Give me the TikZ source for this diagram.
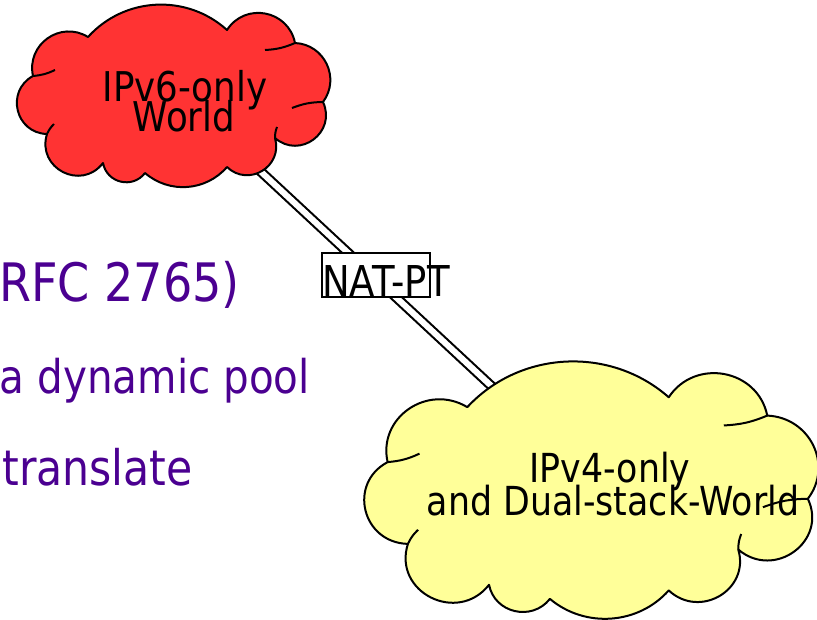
\documentclass[tikz,border=0pt]{standalone}
\usepackage{fontspec}
\usetikzlibrary{calc}
\setmainfont{DejaVu Sans}[FakeStretch=0.87]
\definecolor{cloudred}{RGB}{255,51,51}
\definecolor{cloudyellow}{RGB}{255,255,153}
\definecolor{txtpurple}{RGB}{75,0,145}

% one circular bump of the cloud from #1 to #2, leaving the chord at angle #3, control factor #4
\newcommand\arcb[4]{.. controls ($(#1)!#4!#3:(#2)$) and ($(#2)!#4!-#3:(#1)$) .. (#2)}

% cloud outline in the coordinates of the red cloud
\newcommand\cloudoutline[1]{%
  \path[cloudline,fill=#1] (33,76)
    \arcb{33,76}{88,37}{67}{0.4794}
    \arcb{88,37}{227,30}{45}{0.3905}
    \arcb{227,30}{295,43}{68}{0.4850}
    \arcb{295,43}{323,102}{62}{0.4536}
    \arcb{323,102}{275,138}{78}{0.5519}
    \arcb{275,138}{227,167}{75}{0.5296}
    \arcb{227,167}{145,173}{45}{0.3905}
    \arcb{145,173}{103,163}{66}{0.4739}
    \arcb{103,163}{47,134}{80}{0.5680}
    \arcb{47,134}{33,76}{75}{0.5296}
    -- cycle;
  \draw[cloudline] (33,76) to[bend right=10] (55,70);
  \draw[cloudline] (295,43) to[bend left=10] (265,50);
  \draw[cloudline] (323,102) to[bend right=10] (292,108);
  \draw[cloudline] (275,138) to[bend left=10] (277,127);
  \draw[cloudline] (47,134) to[bend left=10] (54,124);
}

\tikzset{
  cloudline/.style={draw=black,line width=2pt,line join=round},
  link/.style={draw=black,double=white,line width=2.1pt,double distance=6pt},
  cloudtxt/.style={inner sep=0pt,anchor=base,text=black,font=\fontsize{41}{41}\selectfont},
  cloudtxtb/.style={inner sep=0pt,anchor=base,text=black,font=\fontsize{40}{40}\selectfont},
  bulletbig/.style={inner sep=0pt,anchor=base east,text=txtpurple,font=\fontsize{53}{53}\selectfont},
  bulletsmall/.style={inner sep=0pt,anchor=base east,text=txtpurple,font=\fontsize{46.5}{46.5}\selectfont},
  natbox/.style={draw=black,fill=white,line width=1.3pt,minimum width=108pt,minimum height=44pt,inner sep=0pt},
  nattxt/.style={inner sep=0pt,anchor=base west,text=black,font=\fontsize{42.5}{42.5}\selectfont}
}

\begin{document}
\begin{tikzpicture}[x=1pt,y=-1pt]
\useasboundingbox (0,0) rectangle (817,620);
\clip (0,0) rectangle (817,620);
\fill[white] (0,0) rectangle (817,620);

% bullet text (cut at left edge)
\node[bulletbig] (rfc) at (240,302) {RFC 2765)};
\node[bulletsmall] (pool) at (310,393) {a dynamic pool};
\node[bulletsmall,font=\fontsize{49}{49}\selectfont] (transl) at (193,485) {translate};

% link between clouds
\coordinate (v6end) at (230,143);
\coordinate (v4end) at (500,394);
\draw[link] (v6end) -- (v4end);

% clouds
\cloudoutline{cloudred}
\begin{scope}[shift={(339.8,354.95)},xscale=1.449,yscale=1.41]
  \cloudoutline{cloudyellow}
\end{scope}

\node[cloudtxt] (v6a) at (185,102) {IPv6-only};
\node[cloudtxt] (v6b) at (184,132) {World};
\node[cloudtxtb] (v4a) at (610,482) {IPv4-only};
\node[cloudtxtb] (v4b) at (613,515) {and Dual-stack-World};

% NAT-PT box
\node[natbox] (natpt) at (376,275) {};
\node[nattxt] (nattext) at (322,297) {NAT-PT};
\end{tikzpicture}
\end{document}
